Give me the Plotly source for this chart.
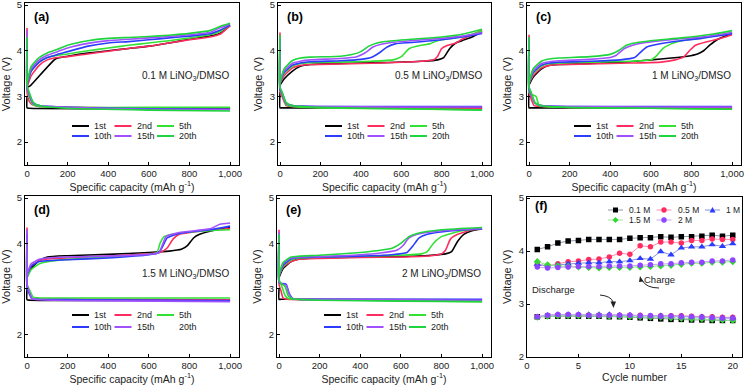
import plotly.graph_objects as go

W, H = 745, 385

CYCLES = ["1st", "2nd", "5th", "10th", "15th", "20th"]
CYCLE_COLORS = {"1st": "#000000", "2nd": "#ff2d5f", "5th": "#33e133",
                "10th": "#2b3cff", "15th": "#a050ff", "20th": "#1fd43c"}

# ---- (a) 0.1 M ----
A_CHARGE = {
    "1st": ([0, 15, 140, 200, 300, 400, 500, 600, 700, 800, 900, 950, 1000],
            [3.2, 3.23, 3.82, 3.88, 3.95, 4.0, 4.05, 4.1, 4.17, 4.25, 4.32, 4.38, 4.55]),
    "2nd": ([0, 20, 60, 100, 150, 200, 300, 400, 500, 600, 700, 800, 900, 950, 1000],
            [3.2, 3.45, 3.68, 3.8, 3.85, 3.87, 3.93, 3.99, 4.05, 4.1, 4.17, 4.24, 4.3, 4.36, 4.55]),
    "5th": ([0, 20, 60, 100, 150, 200, 300, 400, 500, 600, 700, 800, 900, 950, 1000],
            [3.25, 3.55, 3.75, 3.85, 3.9, 3.93, 4.0, 4.06, 4.12, 4.17, 4.22, 4.28, 4.35, 4.42, 4.57]),
    "10th": ([0, 20, 60, 100, 150, 200, 300, 400, 500, 600, 700, 800, 900, 950, 1000],
             [3.25, 3.55, 3.75, 3.85, 3.92, 3.98, 4.1, 4.17, 4.2, 4.24, 4.28, 4.32, 4.37, 4.45, 4.56]),
    "15th": ([0, 20, 60, 100, 150, 200, 300, 400, 500, 600, 700, 800, 900, 950, 1000],
             [3.28, 3.6, 3.8, 3.9, 3.98, 4.06, 4.16, 4.22, 4.25, 4.28, 4.31, 4.35, 4.4, 4.5, 4.58]),
    "20th": ([0, 20, 60, 100, 150, 200, 300, 400, 500, 600, 700, 800, 900, 950, 1000],
             [3.3, 3.65, 3.85, 3.95, 4.03, 4.12, 4.22, 4.27, 4.29, 4.31, 4.34, 4.38, 4.44, 4.53, 4.6]),
}
A_DISCHARGE = {
    "1st": ([0, 0, 10, 1000], [3.0, 2.75, 2.74, 2.74]),
    "2nd": ([0, 0, 10, 25, 60, 200, 600, 1000], [4.5, 3.1, 2.9, 2.82, 2.78, 2.76, 2.75, 2.75]),
    "5th": ([0, 0, 10, 30, 60, 200, 600, 1000], [4.25, 3.2, 3.0, 2.82, 2.78, 2.76, 2.76, 2.76]),
    "10th": ([0, 0, 10, 30, 60, 200, 600, 1000], [4.2, 3.2, 3.05, 2.85, 2.8, 2.76, 2.73, 2.72]),
    "15th": ([0, 0, 10, 30, 60, 200, 600, 1000], [4.45, 3.2, 3.05, 2.85, 2.8, 2.76, 2.72, 2.71]),
    "20th": ([0, 0, 10, 30, 60, 200, 600, 1000], [4.3, 3.25, 3.1, 2.88, 2.8, 2.74, 2.7, 2.68]),
}

# ---- (b) 0.5 M ----
B_CHARGE = {
    "1st": ([0, 20, 60, 100, 150, 300, 500, 700, 780, 810, 840, 870, 900, 950, 1000],
            [3.25, 3.38, 3.55, 3.66, 3.7, 3.72, 3.74, 3.77, 3.8, 3.85, 4.05, 4.17, 4.22, 4.3, 4.42]),
    "2nd": ([0, 20, 60, 100, 150, 300, 500, 700, 760, 780, 800, 830, 870, 900, 950, 1000],
            [3.28, 3.45, 3.62, 3.68, 3.7, 3.71, 3.73, 3.77, 3.8, 3.88, 4.05, 4.12, 4.17, 4.25, 4.35, 4.45]),
    "5th": ([0, 20, 60, 100, 150, 300, 450, 560, 600, 640, 700, 740, 780, 850, 900, 950, 1000],
            [3.3, 3.5, 3.66, 3.72, 3.74, 3.75, 3.77, 3.8, 3.87, 4.05, 4.12, 4.15, 4.22, 4.27, 4.3, 4.36, 4.43]),
    "10th": ([0, 20, 60, 100, 150, 300, 400, 450, 490, 530, 570, 650, 800, 900, 1000],
             [3.3, 3.52, 3.68, 3.73, 3.76, 3.78, 3.81, 3.85, 3.95, 4.08, 4.15, 4.18, 4.24, 4.3, 4.38]),
    "15th": ([0, 20, 60, 100, 150, 300, 380, 420, 460, 500, 550, 650, 800, 900, 1000],
             [3.3, 3.55, 3.72, 3.77, 3.8, 3.83, 3.87, 3.95, 4.08, 4.14, 4.18, 4.22, 4.27, 4.32, 4.4]),
    "20th": ([0, 20, 60, 100, 150, 300, 350, 400, 440, 480, 520, 650, 800, 900, 1000],
             [3.32, 3.6, 3.78, 3.84, 3.86, 3.88, 3.91, 3.98, 4.1, 4.17, 4.2, 4.25, 4.3, 4.36, 4.47]),
}
B_DISCHARGE = {
    "1st": ([0, 0, 10, 1000], [3.1, 2.75, 2.75, 2.75]),
    "2nd": ([0, 0, 10, 30, 60, 200, 600, 1000], [4.4, 3.1, 3.0, 2.8, 2.78, 2.76, 2.75, 2.74]),
    "5th": ([0, 0, 10, 30, 60, 200, 600, 1000], [4.3, 3.15, 3.05, 2.82, 2.78, 2.75, 2.73, 2.71]),
    "10th": ([0, 0, 10, 30, 60, 200, 600, 1000], [4.25, 3.15, 3.08, 2.85, 2.8, 2.78, 2.78, 2.78]),
    "15th": ([0, 0, 10, 30, 60, 200, 600, 1000], [4.3, 3.2, 3.08, 2.85, 2.8, 2.78, 2.77, 2.77]),
    "20th": ([0, 0, 10, 30, 60, 200, 600, 1000], [4.35, 3.2, 3.1, 2.87, 2.8, 2.76, 2.73, 2.7]),
}

# ---- (c) 1 M ----
C_CHARGE = {
    "1st": ([0, 20, 60, 100, 150, 300, 500, 600, 700, 780, 830, 860, 890, 930, 970, 1000],
            [3.25, 3.42, 3.6, 3.68, 3.7, 3.72, 3.76, 3.8, 3.84, 3.88, 3.93, 4.0, 4.12, 4.25, 4.33, 4.38]),
    "2nd": ([0, 20, 60, 100, 150, 300, 500, 650, 720, 760, 790, 820, 880, 950, 1000],
            [3.28, 3.45, 3.62, 3.68, 3.7, 3.71, 3.73, 3.75, 3.8, 3.86, 4.0, 4.12, 4.2, 4.28, 4.35]),
    "5th": ([0, 20, 60, 100, 150, 300, 500, 600, 630, 660, 700, 750, 850, 950, 1000],
            [3.3, 3.5, 3.66, 3.72, 3.73, 3.75, 3.77, 3.8, 3.9, 4.05, 4.15, 4.22, 4.28, 4.35, 4.4]),
    "10th": ([0, 20, 60, 100, 150, 300, 450, 520, 550, 580, 620, 700, 850, 1000],
             [3.3, 3.52, 3.68, 3.73, 3.75, 3.77, 3.8, 3.85, 3.97, 4.08, 4.13, 4.19, 4.27, 4.37]),
    "15th": ([0, 20, 60, 100, 150, 300, 400, 430, 470, 510, 560, 700, 850, 1000],
             [3.3, 3.55, 3.72, 3.76, 3.78, 3.81, 3.85, 3.9, 4.05, 4.12, 4.17, 4.24, 4.3, 4.4]),
    "20th": ([0, 20, 60, 100, 150, 300, 400, 440, 480, 520, 600, 750, 900, 1000],
             [3.32, 3.6, 3.77, 3.82, 3.84, 3.87, 3.92, 4.0, 4.12, 4.17, 4.22, 4.28, 4.36, 4.44]),
}
C_DISCHARGE = {
    "1st": ([0, 0, 10, 1000], [3.1, 2.75, 2.75, 2.75]),
    "2nd": ([0, 0, 10, 25, 60, 200, 600, 1000], [4.35, 3.1, 2.95, 2.8, 2.78, 2.76, 2.75, 2.75]),
    "5th": ([0, 0, 10, 35, 50, 200, 600, 1000], [4.3, 3.1, 3.05, 3.0, 2.8, 2.76, 2.74, 2.72]),
    "10th": ([0, 0, 10, 30, 60, 200, 600, 1000], [4.25, 3.15, 3.05, 2.85, 2.8, 2.78, 2.78, 2.78]),
    "15th": ([0, 0, 10, 30, 60, 200, 600, 1000], [4.3, 3.2, 3.05, 2.85, 2.8, 2.78, 2.77, 2.77]),
    "20th": ([0, 0, 10, 30, 60, 200, 600, 1000], [4.3, 3.2, 3.1, 2.86, 2.8, 2.76, 2.74, 2.72]),
}

# ---- (d) 1.5 M (no 20th curve shown) ----
D_CHARGE = {
    "1st": ([0, 20, 60, 100, 200, 400, 600, 700, 760, 790, 820, 850, 900, 1000],
            [3.25, 3.45, 3.62, 3.7, 3.73, 3.76, 3.8, 3.83, 3.87, 3.95, 4.12, 4.2, 4.27, 4.35]),
    "2nd": ([0, 20, 60, 100, 200, 400, 600, 660, 690, 720, 750, 850, 1000],
            [3.28, 3.5, 3.62, 3.66, 3.68, 3.72, 3.77, 3.81, 3.9, 4.1, 4.2, 4.27, 4.33]),
    "5th": ([0, 20, 60, 100, 200, 400, 600, 640, 655, 675, 750, 900, 1000],
            [3.25, 3.42, 3.55, 3.6, 3.65, 3.7, 3.76, 3.8, 4.0, 4.15, 4.23, 4.28, 4.3]),
    "10th": ([0, 20, 60, 100, 200, 400, 600, 650, 670, 690, 750, 900, 1000],
             [3.3, 3.5, 3.6, 3.62, 3.64, 3.68, 3.75, 3.8, 3.95, 4.12, 4.22, 4.3, 4.38]),
    "15th": ([0, 20, 60, 100, 200, 400, 600, 650, 665, 685, 750, 900, 950, 1000],
             [3.3, 3.55, 3.65, 3.68, 3.7, 3.72, 3.76, 3.8, 3.95, 4.15, 4.24, 4.32, 4.42, 4.45]),
}
D_DISCHARGE = {
    "1st": ([0, 0, 15, 1000], [3.0, 2.76, 2.75, 2.75]),
    "2nd": ([0, 0, 10, 25, 60, 300, 1000], [4.35, 3.05, 2.95, 2.78, 2.77, 2.77, 2.76]),
    "5th": ([0, 0, 10, 30, 60, 300, 1000], [4.1, 3.1, 3.0, 2.82, 2.8, 2.8, 2.8]),
    "10th": ([0, 0, 10, 25, 60, 300, 1000], [4.2, 3.05, 2.9, 2.78, 2.77, 2.76, 2.74]),
    "15th": ([0, 0, 10, 25, 60, 300, 1000], [4.3, 3.1, 2.95, 2.78, 2.76, 2.74, 2.72]),
}

# ---- (e) 2 M ----
E_CHARGE = {
    "1st": ([0, 20, 60, 100, 200, 400, 600, 750, 820, 850, 880, 910, 950, 1000],
            [3.25, 3.45, 3.6, 3.66, 3.68, 3.7, 3.71, 3.74, 3.77, 3.82, 4.05, 4.2, 4.28, 4.32]),
    "2nd": ([0, 20, 60, 100, 200, 400, 600, 750, 800, 820, 845, 880, 950, 1000],
            [3.28, 3.48, 3.6, 3.65, 3.67, 3.69, 3.7, 3.73, 3.77, 3.85, 4.1, 4.2, 4.3, 4.32]),
    "5th": ([0, 20, 60, 100, 200, 400, 600, 700, 730, 760, 800, 900, 1000],
            [3.3, 3.5, 3.64, 3.68, 3.7, 3.72, 3.74, 3.77, 3.82, 4.0, 4.15, 4.28, 4.33]),
    "10th": ([0, 20, 60, 100, 200, 400, 550, 630, 660, 690, 730, 850, 1000],
             [3.3, 3.52, 3.66, 3.69, 3.7, 3.72, 3.75, 3.8, 3.95, 4.12, 4.2, 4.28, 4.32]),
    "15th": ([0, 20, 60, 100, 200, 400, 500, 580, 610, 640, 680, 800, 1000],
             [3.3, 3.55, 3.68, 3.7, 3.71, 3.75, 3.79, 3.85, 3.95, 4.12, 4.2, 4.28, 4.33]),
    "20th": ([0, 20, 60, 100, 200, 400, 500, 560, 600, 640, 680, 800, 1000],
             [3.32, 3.58, 3.7, 3.72, 3.74, 3.8, 3.85, 3.9, 4.0, 4.15, 4.22, 4.3, 4.35]),
}
E_DISCHARGE = {
    "1st": ([0, 0, 10, 1000], [3.0, 2.77, 2.77, 2.76]),
    "2nd": ([0, 0, 10, 20, 40, 200, 600, 1000], [4.3, 3.1, 2.95, 2.8, 2.77, 2.76, 2.76, 2.76]),
    "5th": ([0, 0, 10, 30, 50, 200, 600, 1000], [4.2, 3.15, 3.1, 2.85, 2.78, 2.76, 2.74, 2.72]),
    "10th": ([0, 0, 10, 35, 50, 70, 200, 600, 1000], [4.1, 3.15, 3.12, 3.1, 2.9, 2.78, 2.77, 2.77, 2.77]),
    "15th": ([0, 0, 10, 35, 50, 70, 200, 600, 1000], [4.25, 3.15, 3.12, 3.08, 2.88, 2.78, 2.77, 2.76, 2.75]),
    "20th": ([0, 0, 10, 30, 45, 70, 200, 600, 1000], [4.2, 3.2, 3.12, 3.05, 2.85, 2.78, 2.75, 2.73, 2.72]),
}

# ---- (f) voltage vs cycle ----
CYCLE_NO = [1, 2, 3, 4, 5, 6, 7, 8, 9, 10, 11, 12, 13, 14, 15, 16, 17, 18, 19, 20]
CONC = ["0.1 M", "0.5 M", "1 M", "1.5 M", "2 M"]
CHARGE_V = {
    "0.1 M": [4.03, 4.08, 4.15, 4.19, 4.20, 4.22, 4.22, 4.22, 4.22, 4.24, 4.25, 4.25, 4.27, 4.26, 4.27, 4.27, 4.28, 4.30, 4.28, 4.30],
    "0.5 M": [3.74, 3.72, 3.76, 3.80, 3.81, 3.84, 3.85, 3.89, 3.96, 3.94, 4.10, 4.08, 4.17, 4.17, 4.15, 4.20, 4.20, 4.23, 4.22, 4.22],
    "1 M":   [3.75, 3.72, 3.74, 3.76, 3.77, 3.78, 3.78, 3.80, 3.80, 3.82, 3.86, 3.85, 3.99, 3.93, 4.06, 4.08, 4.08, 4.12, 4.09, 4.14],
    "1.5 M": [3.80, 3.74, 3.72, 3.71, 3.70, 3.69, 3.68, 3.69, 3.69, 3.69, 3.70, 3.71, 3.72, 3.73, 3.75, 3.77, 3.77, 3.79, 3.79, 3.80],
    "2 M":   [3.70, 3.68, 3.69, 3.70, 3.71, 3.71, 3.71, 3.72, 3.72, 3.72, 3.73, 3.74, 3.76, 3.76, 3.78, 3.79, 3.79, 3.81, 3.81, 3.83],
}
DISCHARGE_V = {
    "0.1 M": [2.76, 2.77, 2.77, 2.77, 2.77, 2.77, 2.77, 2.76, 2.76, 2.75, 2.74, 2.73, 2.72, 2.71, 2.71, 2.70, 2.70, 2.69, 2.69, 2.69],
    "0.5 M": [2.76, 2.78, 2.79, 2.79, 2.79, 2.79, 2.79, 2.79, 2.79, 2.79, 2.79, 2.78, 2.78, 2.78, 2.78, 2.77, 2.76, 2.76, 2.75, 2.75],
    "1 M":   [2.76, 2.79, 2.80, 2.80, 2.80, 2.80, 2.80, 2.80, 2.79, 2.79, 2.78, 2.78, 2.78, 2.77, 2.77, 2.76, 2.76, 2.75, 2.74, 2.74],
    "1.5 M": [2.75, 2.77, 2.78, 2.78, 2.78, 2.78, 2.78, 2.77, 2.77, 2.76, 2.76, 2.75, 2.75, 2.74, 2.73, 2.72, 2.72, 2.71, 2.70, 2.69],
    "2 M":   [2.76, 2.79, 2.80, 2.80, 2.80, 2.79, 2.79, 2.79, 2.79, 2.79, 2.78, 2.78, 2.77, 2.77, 2.76, 2.76, 2.75, 2.74, 2.73, 2.73],
}
CONC_STYLE = {
    "0.1 M": ("#000000", "#8c97aa", "square"),
    "0.5 M": ("#ff2d5f", "#ff8fae", "circle"),
    "1 M": ("#2b3cff", "#8a93d8", "triangle-up"),
    "1.5 M": ("#33d633", "#9ee59e", "diamond"),
    "2 M": ("#8f45ff", "#c6a6f5", "circle"),
}

PANELS = [
    ("a", "0.1 M LiNO<sub>3</sub>/DMSO", A_CHARGE, A_DISCHARGE, (25, 239, 3, 165)),
    ("b", "0.5 M LiNO<sub>3</sub>/DMSO", B_CHARGE, B_DISCHARGE, (278, 491, 3, 165)),
    ("c", "1 M LiNO<sub>3</sub>/DMSO", C_CHARGE, C_DISCHARGE, (527, 741, 3, 165)),
    ("d", "1.5 M LiNO<sub>3</sub>/DMSO", D_CHARGE, D_DISCHARGE, (25, 239, 196, 357)),
    ("e", "2 M LiNO<sub>3</sub>/DMSO", E_CHARGE, E_DISCHARGE, (277, 491, 196, 357)),
]
F_BOX = (527, 742, 196.5, 357)

FONT = "Liberation Sans, Arial, sans-serif"


def px(x):
    return x / W


def py(y):
    return 1 - y / H


fig = go.Figure()
shapes = []
annotations = []

axis_common = dict(showline=True, mirror=True, linecolor="black", linewidth=1,
                   ticks="inside", ticklen=3, tickcolor="black", showgrid=False,
                   zeroline=False, automargin=False, ticklabeloverflow="allow",
                   tickfont=dict(family=FONT, size=9.5, color="#222"))

for i, (tag, label, charge, discharge, box) in enumerate(PANELS):
    n = i + 1
    xa, ya = ("x", "y") if n == 1 else (f"x{n}", f"y{n}")
    L, R, T, B = box
    for cyc in CYCLES:
        col = CYCLE_COLORS[cyc]
        for data in (discharge, charge):
            if cyc not in data:
                continue
            xs, ys = data[cyc]
            fig.add_trace(go.Scatter(x=xs, y=ys, mode="lines", xaxis=xa, yaxis=ya,
                                     line=dict(color=col, width=1.6, shape="spline", smoothing=0.5),
                                     showlegend=False, hoverinfo="skip"))
    key = "" if n == 1 else str(n)
    fig.layout["xaxis" + key] = dict(
        axis_common, domain=[px(L), px(R)], anchor=ya, range=[-10, 1044],
        tickvals=[0, 200, 400, 600, 800, 1000], tickformat=",d",
        title=dict(text="Specific capacity (mAh g<sup>-1</sup>)", standoff=3,
                   font=dict(family=FONT, size=10.5, color="#222")))
    fig.layout["yaxis" + key] = dict(
        axis_common, domain=[py(B), py(T)], anchor=xa, range=[1.5, 5.044],
        tickvals=[2, 3, 4, 5],
        title=dict(text="Voltage (V)", standoff=4,
                   font=dict(family=FONT, size=11, color="#222")))
    # panel tag and electrolyte label
    annotations.append(dict(text=f"<b>({tag})</b>", x=px(L + 7), y=py(T + 14), xref="paper", yref="paper",
                            xanchor="left", yanchor="middle", showarrow=False,
                            font=dict(family=FONT, size=12.5, color="black")))
    ly = T + 73 if T < 100 else T + 78
    annotations.append(dict(text=label, x=px(L + 206), y=py(ly), xref="paper", yref="paper",
                            xanchor="right", yanchor="middle", showarrow=False,
                            font=dict(family=FONT, size=10, color="#222")))
    # legend, 2 rows x 3 columns
    rows = (T + 123, T + 133) if T < 100 else (T + 119, T + 131)
    for k, cyc in enumerate(CYCLES):
        r, c = divmod(k, 3)
        x0 = L + 47 + c * 42.5
        yy = rows[r]
        if cyc in charge:
            shapes.append(dict(type="line", xref="paper", yref="paper", x0=px(x0), x1=px(x0 + 17),
                               y0=py(yy), y1=py(yy), line=dict(color=CYCLE_COLORS[cyc], width=2)))
        annotations.append(dict(text=cyc, x=px(x0 + 20), y=py(yy), xref="paper", yref="paper",
                                xanchor="left", yanchor="middle", showarrow=False,
                                font=dict(family=FONT, size=9, color="#222")))

# panel (f)
for conc in CONC:
    mc, lc, sym = CONC_STYLE[conc]
    for vals in (CHARGE_V[conc], DISCHARGE_V[conc]):
        fig.add_trace(go.Scatter(x=CYCLE_NO, y=vals, mode="lines+markers", xaxis="x6", yaxis="y6",
                                 line=dict(color=lc, width=1),
                                 marker=dict(symbol=sym, size=5.5 if sym != "triangle-up" else 6.5, color=mc),
                                 showlegend=False, hoverinfo="skip"))
L, R, T, B = F_BOX
fig.layout.xaxis6 = dict(axis_common, domain=[px(L), px(R)], anchor="y6", range=[0, 20.9],
                         tickvals=[0, 5, 10, 15, 20],
                         title=dict(text="Cycle number", standoff=3,
                                    font=dict(family=FONT, size=10.5, color="#222")))
fig.layout.yaxis6 = dict(axis_common, domain=[py(B), py(T)], anchor="x6", range=[2, 5.03],
                         tickvals=[2, 3, 4, 5],
                         title=dict(text="Voltage (V)", standoff=4,
                                    font=dict(family=FONT, size=11, color="#222")))
annotations.append(dict(text="<b>(f)</b>", x=px(L + 6), y=py(T + 9), xref="paper", yref="paper",
                        xanchor="left", yanchor="middle", showarrow=False,
                        font=dict(family=FONT, size=12.5, color="black")))


def marker_path(sym, cx, cy, r):
    if sym == "square":
        return f"M{px(cx - r)},{py(cy - r)} L{px(cx + r)},{py(cy - r)} L{px(cx + r)},{py(cy + r)} L{px(cx - r)},{py(cy + r)} Z"
    if sym == "triangle-up":
        return f"M{px(cx)},{py(cy - r - 0.5)} L{px(cx + r + 0.5)},{py(cy + r)} L{px(cx - r - 0.5)},{py(cy + r)} Z"
    if sym == "diamond":
        return f"M{px(cx)},{py(cy - r - 0.5)} L{px(cx + r + 0.5)},{py(cy)} L{px(cx)},{py(cy + r + 0.5)} L{px(cx - r - 0.5)},{py(cy)} Z"
    return None


for k, conc in enumerate(CONC):
    mc, lc, sym = CONC_STYLE[conc]
    r, c = divmod(k, 3)
    x0 = 608 + c * 48.5
    yy = 210 + r * 10
    shapes.append(dict(type="line", xref="paper", yref="paper", x0=px(x0), x1=px(x0 + 15),
                       y0=py(yy), y1=py(yy), line=dict(color=lc, width=1)))
    cx = x0 + 7.5
    p = marker_path(sym, cx, yy, 2.5)
    if p:
        shapes.append(dict(type="path", xref="paper", yref="paper", path=p, fillcolor=mc, line=dict(width=0)))
    else:
        shapes.append(dict(type="circle", xref="paper", yref="paper", x0=px(cx - 2.7), x1=px(cx + 2.7),
                           y0=py(yy - 2.7), y1=py(yy + 2.7), fillcolor=mc, line=dict(width=0)))
    annotations.append(dict(text=conc, x=px(x0 + 19), y=py(yy), xref="paper", yref="paper",
                            xanchor="left", yanchor="middle", showarrow=False,
                            font=dict(family=FONT, size=8.5, color="#222")))

# Charge / Discharge labels with curved arrows
annotations.append(dict(text="Charge", x=px(677), y=py(287), xref="paper", yref="paper",
                        showarrow=False, font=dict(family=FONT, size=9.5, color="#222")))
annotations.append(dict(text="Discharge", x=px(577), y=py(297), xref="paper", yref="paper",
                        showarrow=False, font=dict(family=FONT, size=9.5, color="#222")))
shapes.append(dict(type="path", xref="paper", yref="paper",
                   path=f"M{px(659)},{py(288)} Q{px(646)},{py(288)} {px(642)},{py(280)}",
                   line=dict(color="#222", width=1)))
shapes.append(dict(type="path", xref="paper", yref="paper",
                   path=f"M{px(640)},{py(276)} L{px(643.5)},{py(281.5)} L{px(639)},{py(282)} Z",
                   fillcolor="#222", line=dict(width=0)))
shapes.append(dict(type="path", xref="paper", yref="paper",
                   path=f"M{px(600)},{py(295)} Q{px(611)},{py(296)} {px(613)},{py(302)}",
                   line=dict(color="#222", width=1)))
shapes.append(dict(type="path", xref="paper", yref="paper",
                   path=f"M{px(613.5)},{py(308)} L{px(610.5)},{py(301.5)} L{px(616)},{py(301.5)} Z",
                   fillcolor="#222", line=dict(width=0)))

fig.update_layout(
    width=W, height=H,
    margin=dict(l=0, r=0, t=0, b=0),
    paper_bgcolor="white", plot_bgcolor="white",
    showlegend=False,
    shapes=shapes,
    annotations=annotations,
    font=dict(family=FONT, color="#222"),
)

# the page body keeps a default 8px margin; drop it so the figure sits at the window origin
fig.write_html("out.html", config={"displayModeBar": False},
               post_script="document.body.style.margin='0px';")
